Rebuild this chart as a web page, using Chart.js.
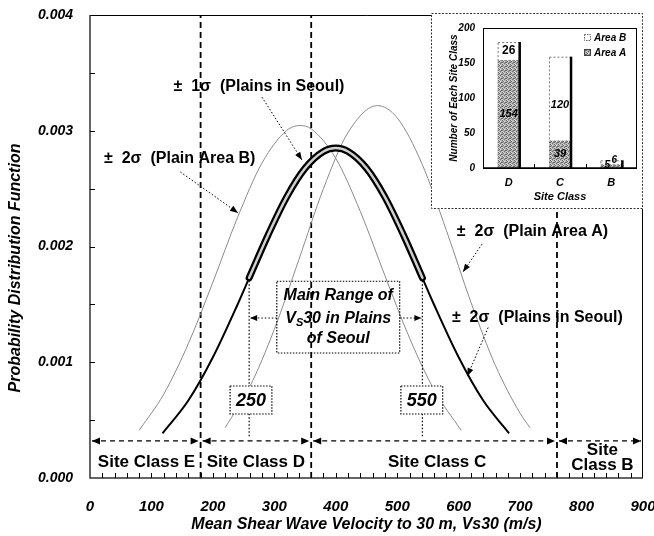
<!DOCTYPE html>
<html><head><meta charset="utf-8">
<script src="https://cdn.jsdelivr.net/npm/chart.js@4.4.1/dist/chart.umd.min.js"></script>
<style>
html,body{margin:0;padding:0;background:#fff;}
#wrap{position:relative;width:654px;height:536px;overflow:hidden;}
#main{position:absolute;left:0;top:0;}
#inset{position:absolute;left:431px;top:13px;background:#fff;}
</style></head><body>
<div id="wrap"><canvas id="main" width="654" height="536" style="width:654px;height:536px"></canvas><canvas id="inset" width="212" height="196" style="width:212px;height:196px"></canvas></div>
<script>
// ---------- data ----------
const seoulX = [118,160,200,240,280,320,360,400,440,480,520,560,600,640,682];
const seoulY = [0.000386,0.000669,0.001043,0.001497,0.001984,0.002427,0.002738,0.00285,0.002738,0.002427,0.001984,0.001497,0.001043,0.000669,0.000386];
const rangeX = [259,290,320,350,380,400,420,450,480,510,541];
const rangeY = [0.001729,0.002102,0.002427,0.002676,0.002821,0.00285,0.002821,0.002676,0.002427,0.002102,0.001729];
const areaBX = [80,120,160,200,240,280,320,342,360,400,440,480,520,560,604];
const areaBY = [0.000412,0.000724,0.00116,0.001692,0.002249,0.002722,0.003002,0.003045,0.003016,0.002761,0.002302,0.001748,0.00121,0.000762,0.000412];
const areaAX = [220,260,300,340,380,420,468,500,540,580,620,660,700,716];
const areaAY = [0.000435,0.000788,0.001285,0.001888,0.002501,0.002985,0.003217,0.003111,0.002718,0.002139,0.001518,0.00097,0.000559,0.000435];
const siteBoundaries = [180,360,760];
const siteClassNames = ['Site Class E','Site Class D','Site Class C','Site Class B'];
const siteClassSpans = [[0,180],[180,360],[360,760],[760,900]];
const rangeLabels = ['250','550'];
const xTickValues = [0,100,200,300,400,500,600,700,800,900];
const yTickValues = [0,0.001,0.002,0.003,0.004];

const insetCategories = ['D','C','B'];
const areaACounts = [154,39,5];
const areaBCounts = [26,120,6];
const insetYTicks = [0,50,100,150,200];

// ---------- helpers ----------
Chart.defaults.font.family = '"Liberation Sans", Arial, sans-serif';
Chart.defaults.color = '#000';
const pts = (xs, ys) => xs.map((x,i)=>({x, y: ys[i]}));
const noPad = s => { s.paddingLeft = 0; s.paddingRight = 0; s.paddingTop = 0; s.paddingBottom = 0; };

function arrowHead(ctx, x1,y1,x2,y2, len, hw){
  const ang = Math.atan2(y2-y1, x2-x1);
  ctx.save(); ctx.setLineDash([]);
  ctx.beginPath();
  ctx.moveTo(x2,y2);
  ctx.lineTo(x2 - len*Math.cos(ang) + hw*Math.sin(ang), y2 - len*Math.sin(ang) - hw*Math.cos(ang));
  ctx.lineTo(x2 - len*Math.cos(ang) - hw*Math.sin(ang), y2 - len*Math.sin(ang) + hw*Math.cos(ang));
  ctx.closePath(); ctx.fill(); ctx.restore();
}
function arrow(ctx, x1,y1,x2,y2, dash, len, hw){
  ctx.save(); ctx.setLineDash(dash);
  ctx.beginPath(); ctx.moveTo(x1,y1); ctx.lineTo(x2,y2); ctx.stroke();
  ctx.restore();
  arrowHead(ctx,x1,y1,x2,y2,len,hw);
}

// annotation layout (data units)
const notes = [
  {text:'\u00B1  1\u03C3  (Plains in Seoul)', x:275, y:0.00338, align:'center'},
  {text:'\u00B1  2\u03C3  (Plain Area B)', x:146, y:0.002756, align:'center'},
  {text:'\u00B1  2\u03C3  (Plain Area A)', x:597, y:0.002125, align:'left'},
  {text:'\u00B1  2\u03C3  (Plains in Seoul)', x:589, y:0.001382, align:'left'}
];
const noteArrows = [
  [280,0.00329,345,0.002747],
  [147,0.002644,241,0.00229],
  [638,0.00202,607,0.00178],
  [648,0.0013,614,0.00088]
];
const layoutY = {classArrow:0.00032, classLabel:0.000138, boxTop:0.000795, boxBot:0.000553, mainTop:0.0017, mainBot:0.00108, mainArrow:0.001382};
const layoutX = {classLabel:[92,270,565,834], mainL:304, mainR:504, box250:[228,296], box550:[506,574]};

const decor = {
  id:'decor',
  afterDatasetsDraw(chart){
    const {ctx, chartArea:a, scales:{x:xs, y:ys}} = chart;
    const X = v => xs.getPixelForValue(v), Y = v => ys.getPixelForValue(v);
    ctx.save();
    ctx.fillStyle='#000'; ctx.strokeStyle='#000';
    // frame
    ctx.lineWidth=1; ctx.setLineDash([]);
    ctx.beginPath(); ctx.moveTo(a.left, a.top+0.5); ctx.lineTo(a.right-0.5, a.top+0.5); ctx.lineTo(a.right-0.5, a.bottom); ctx.stroke();
    ctx.lineWidth=1.5; ctx.strokeStyle='#333';
    ctx.beginPath(); ctx.moveTo(a.left, a.top); ctx.lineTo(a.left, a.bottom); ctx.lineTo(a.right, a.bottom); ctx.stroke();
    ctx.strokeStyle='#000'; ctx.lineWidth=1;
    // minor ticks
    ctx.beginPath();
    for(let v=20; v<900; v+=20){ const px=Math.round(X(v))+0.5; ctx.moveTo(px,a.bottom); ctx.lineTo(px,a.bottom-5); }
    for(let v=0.0005; v<0.004; v+=0.0005){ const py=Math.round(Y(v))+0.5; ctx.moveTo(a.left,py); ctx.lineTo(a.left+5,py); }
    ctx.stroke();

    // site class arrows
    ctx.lineWidth=1.3;
    const ya = Y(layoutY.classArrow);
    siteClassSpans.forEach(([s,e])=>{
      const x1=X(s)+2, x2=X(e)-2;
      ctx.save(); ctx.setLineDash([5,4]); ctx.beginPath(); ctx.moveTo(x1,ya); ctx.lineTo(x2,ya); ctx.stroke(); ctx.restore();
      arrowHead(ctx,x2,ya,x1,ya,8,3.5);
      arrowHead(ctx,x1,ya,x2,ya,8,3.5);
    });
    ctx.font='bold 17px "Liberation Sans", Arial, sans-serif';
    ctx.textAlign='center'; ctx.textBaseline='middle';
    siteClassNames.forEach((n,i)=>{
      const cx = X(layoutX.classLabel[i]);
      if(i===3){ ctx.fillText('Site', cx, Y(0.000242)); ctx.fillText('Class B', cx, Y(0.00011)); }
      else ctx.fillText(n, cx, Y(layoutY.classLabel));
    });

    // range dotted verticals
    ctx.lineWidth=1.2;
    [rangeX[0], rangeX[rangeX.length-1]].forEach((v,i)=>{
      ctx.save(); ctx.setLineDash([1.5,2]);
      ctx.beginPath(); ctx.moveTo(X(v), Y(rangeY[0])+3); ctx.lineTo(X(v), ya-3); ctx.stroke(); ctx.restore();
    });
    // main range box
    const bl=X(layoutX.mainL), br=X(layoutX.mainR), bt=Y(layoutY.mainTop), bb=Y(layoutY.mainBot);
    ctx.save(); ctx.setLineDash([1.5,1.5]); ctx.lineWidth=1.2; ctx.strokeRect(bl,bt,br-bl,bb-bt); ctx.restore();
    const ym = Y(layoutY.mainArrow);
    ctx.lineWidth=1;
    arrow(ctx, bl, ym, X(rangeX[0])+1, ym, [1.5,2], 7, 3);
    arrow(ctx, br, ym, X(rangeX[rangeX.length-1])-1, ym, [1.5,2], 7, 3);
    ctx.font='italic bold 16px "Liberation Sans", Arial, sans-serif';
    ctx.textAlign='center';
    const cx=(bl+br)/2;
    ctx.fillText('Main Range of', cx, bt+14);
    const f1='italic bold 16px "Liberation Sans", Arial, sans-serif', f2='italic bold 11px "Liberation Sans", Arial, sans-serif';
    ctx.font=f1; const wV=ctx.measureText('V').width, wR=ctx.measureText('30 in Plains').width;
    ctx.font=f2; const wS=ctx.measureText('S').width;
    let sx = cx-(wV+wS+wR)/2; const ly=(bt+bb)/2+1;
    ctx.textAlign='left';
    ctx.font=f1; ctx.fillText('V', sx, ly);
    ctx.font=f2; ctx.fillText('S', sx+wV, ly+5);
    ctx.font=f1; ctx.fillText('30 in Plains', sx+wV+wS, ly);
    ctx.textAlign='center';
    ctx.fillText('of Seoul', cx, bb-14);

    // 250 / 550 boxes
    ctx.font='italic bold 18px "Liberation Sans", Arial, sans-serif';
    [layoutX.box250, layoutX.box550].forEach((b,i)=>{
      const l=X(b[0]), r=X(b[1]), t=Y(layoutY.boxTop), btm=Y(layoutY.boxBot);
      ctx.fillStyle='#fff'; ctx.fillRect(l,t,r-l,btm-t);
      ctx.fillStyle='#000';
      ctx.save(); ctx.setLineDash([1.5,1.5]); ctx.lineWidth=1.2; ctx.strokeRect(l,t,r-l,btm-t); ctx.restore();
      ctx.fillText(rangeLabels[i], (l+r)/2, (t+btm)/2+1);
    });

    // notes
    ctx.font='bold 16px "Liberation Sans", Arial, sans-serif';
    notes.forEach(n=>{ ctx.textAlign=n.align; ctx.fillText(n.text, X(n.x), Y(n.y)); });
    ctx.lineWidth=1;
    noteArrows.forEach(([x1,y1,x2,y2])=> arrow(ctx, X(x1),Y(y1),X(x2),Y(y2),[1.5,2],8,3));

    // y title
    ctx.save();
    ctx.translate(16, 268); ctx.rotate(-Math.PI/2);
    ctx.font='italic bold 16px "Liberation Sans", Arial, sans-serif';
    ctx.textAlign='center'; ctx.textBaseline='middle';
    ctx.fillText('Probability Distribution Function', 0, 0);
    ctx.restore();
    ctx.restore();
  }
};

const lineDs = (label, data, color, width, extra) => Object.assign({label, data, borderColor:color, borderWidth:width, pointRadius:0, fill:false, cubicInterpolationMode:'monotone'}, extra||{});

const datasets = [
  lineDs('Seoul ±1σ inner', pts(rangeX, rangeY), '#cfcfcf', 2.5, {borderCapStyle:'round'}),
  lineDs('Seoul ±1σ', pts(rangeX, rangeY), '#000', 7, {borderCapStyle:'round'}),
  lineDs('Plains in Seoul', pts(seoulX, seoulY), '#000', 2),
  lineDs('Plain Area A', pts(areaAX, areaAY), '#8a8a8a', 1),
  lineDs('Plain Area B', pts(areaBX, areaBY), '#8a8a8a', 1)
].concat(siteBoundaries.map(b => lineDs('boundary '+b, [{x:b,y:yTickValues[0]},{x:b,y:yTickValues[yTickValues.length-1]}], '#000', 1.8, {borderDash:[6,4], cubicInterpolationMode:'default', tension:0})));

new Chart(document.getElementById('main'), {
  type:'line',
  data:{datasets},
  options:{
    responsive:false, animation:false, events:[],
    layout:{padding:{left:0, top:15, right:11, bottom:0}},
    plugins:{legend:{display:false}, tooltip:{enabled:false}},
    scales:{
      x:{type:'linear', min:xTickValues[0], max:xTickValues[xTickValues.length-1],
        afterBuildTicks: s => { s.ticks = xTickValues.map(v=>({value:v})); },
        afterFit: s => { s.height = 58; noPad(s); },
        grid:{display:false, drawTicks:false}, border:{display:false},
        ticks:{autoSkip:false, maxRotation:0, padding:20, font:{size:15, weight:'bold', style:'italic'}, color:'#000'},
        title:{display:true, text:'Mean Shear Wave Velocity to 30 m, Vs30 (m/s)', font:{size:16, weight:'bold', style:'italic'}, color:'#000', padding:{top:0,bottom:2}}
      },
      y:{type:'linear', min:yTickValues[0], max:yTickValues[yTickValues.length-1],
        afterBuildTicks: s => { s.ticks = yTickValues.map(v=>({value:v})); },
        afterFit: s => { s.width = 90; noPad(s); },
        grid:{display:false, drawTicks:false}, border:{display:false},
        ticks:{padding:17, callback: v => Number(v).toFixed(3), font:{size:14, weight:'bold', style:'italic'}, color:'#000'}
      }
    }
  },
  plugins:[decor]
});

// ---------- inset ----------
const insetCanvas = document.getElementById('inset');
const ictx = insetCanvas.getContext('2d');
function makePattern(){
  const c=document.createElement('canvas'); c.width=4; c.height=4;
  const g=c.getContext('2d');
  g.fillStyle='#b2b2b2'; g.fillRect(0,0,4,4);
  g.fillStyle='#6a6a6a'; [[0,0],[2,1],[1,2],[3,3],[3,1]].forEach(([x,y])=>g.fillRect(x,y,1,1));
  g.fillStyle='#d8d8d8'; [[1,0],[3,2],[0,3]].forEach(([x,y])=>g.fillRect(x,y,1,1));
  return ictx.createPattern(c,'repeat');
}
const patA = makePattern();

const insetDecor = {
  id:'insetDecor',
  afterDatasetsDraw(chart){
    const {ctx, chartArea:a} = chart;
    const mA=chart.getDatasetMeta(0), mB=chart.getDatasetMeta(1);
    ctx.save();
    ctx.strokeStyle='#777'; ctx.lineWidth=1; ctx.setLineDash([2,2]);
    mB.data.forEach(el=>{ const p=el.getProps(['x','y','base','width'],true); if(p.base-p.y>2) ctx.strokeRect(p.x-p.width/2+0.5, p.y+0.5, p.width-1, p.base-p.y); });
    ctx.setLineDash([]);
    ctx.strokeStyle='#000'; ctx.lineWidth=2.5;
    mB.data.forEach((el,i)=>{ const p=el.getProps(['x','y','width'],true); const b0=mA.data[i].getProps(['base'],true).base; ctx.beginPath(); ctx.moveTo(p.x+p.width/2, p.y); ctx.lineTo(p.x+p.width/2, b0); ctx.stroke(); });
    ctx.lineWidth=1; ctx.strokeStyle='#000';
    ctx.strokeRect(a.left+0.5, a.top+0.5, a.right-a.left-1, a.bottom-a.top);
    ctx.lineWidth=1.5; ctx.beginPath(); ctx.moveTo(a.left,a.bottom); ctx.lineTo(a.right,a.bottom); ctx.stroke();
    ctx.lineWidth=1; ctx.beginPath();
    for(let k=1;k<insetCategories.length;k++){ const px=Math.round(a.left+k*(a.right-a.left)/insetCategories.length)+0.5; ctx.moveTo(px,a.bottom); ctx.lineTo(px,a.bottom-4); }
    ctx.stroke();
    ctx.fillStyle='#000'; ctx.textAlign='center'; ctx.textBaseline='middle';
    const fl='italic bold 11px "Liberation Sans", Arial, sans-serif';
    [0,1].forEach(i=>{
      const pa=mA.data[i].getProps(['x','y','base'],true), pb=mB.data[i].getProps(['x','y','base'],true);
      ctx.font = i===0 ? 'bold 12px "Liberation Sans", Arial, sans-serif' : fl;
      ctx.fillText(String(areaBCounts[i]), pb.x, (pb.y+pb.base)/2 + (i===1?6:0));
      ctx.font=fl;
      ctx.fillText(String(areaACounts[i]), pa.x, (pa.y+pa.base)/2);
    });
    const p2=mA.data[2].getProps(['x','base'],true);
    ctx.font='italic bold 10px "Liberation Sans", Arial, sans-serif';
    ctx.fillText(String(areaACounts[2]), p2.x-4, p2.base-3);
    ctx.fillText(String(areaBCounts[2]), p2.x+3, p2.base-8);
    ctx.textAlign='left';
    ctx.font='italic bold 10px "Liberation Sans", Arial, sans-serif';
    ctx.fillStyle='#fff'; ctx.fillRect(153,21,7,7);
    ctx.strokeStyle='#666'; ctx.setLineDash([1.5,1]); ctx.strokeRect(153.5,21.5,6,6); ctx.setLineDash([]);
    ctx.fillStyle='#000'; ctx.fillText('Area B', 163, 25);
    ctx.fillStyle=patA; ctx.fillRect(153,36,7,7);
    ctx.strokeStyle='#444'; ctx.strokeRect(153.5,36.5,6,6);
    ctx.fillStyle='#000'; ctx.fillText('Area A', 163, 40);
    ctx.strokeStyle='#333'; ctx.setLineDash([2,1.5]); ctx.lineWidth=1;
    ctx.strokeRect(0.5,0.5,chart.width-1,chart.height-1);
    ctx.restore();
  }
};

new Chart(insetCanvas, {
  type:'bar',
  data:{labels:insetCategories, datasets:[
    {label:'Area A', data:areaACounts, backgroundColor:patA, borderWidth:0, barPercentage:0.43, categoryPercentage:1},
    {label:'Area B', data:areaBCounts, backgroundColor:'#fff', borderWidth:0, barPercentage:0.43, categoryPercentage:1}
  ]},
  options:{
    responsive:false, animation:false, events:[],
    layout:{padding:{left:0, top:15, right:6, bottom:0}},
    plugins:{legend:{display:false}, tooltip:{enabled:false}},
    scales:{
      x:{stacked:true, grid:{display:false, drawTicks:false}, border:{display:false},
        afterFit: s => { s.height = 41; noPad(s); },
        ticks:{padding:8, font:{size:11, weight:'bold', style:'italic'}, color:'#000'},
        title:{display:true, text:'Site Class', font:{size:11, weight:'bold', style:'italic'}, color:'#000', padding:{top:0,bottom:5}}
      },
      y:{stacked:true, min:insetYTicks[0], max:insetYTicks[insetYTicks.length-1],
        afterBuildTicks: s => { s.ticks = insetYTicks.map(v=>({value:v})); },
        afterFit: s => { s.width = 52; noPad(s); },
        grid:{display:false, drawTicks:false}, border:{display:false},
        ticks:{padding:8, font:{size:10, weight:'bold', style:'italic'}, color:'#000'},
        title:{display:true, text:'Number of Each Site Class', font:{size:10, weight:'bold', style:'italic'}, color:'#000', padding:{top:17,bottom:0}}
      }
    }
  },
  plugins:[insetDecor]
});
</script>
</body></html>
